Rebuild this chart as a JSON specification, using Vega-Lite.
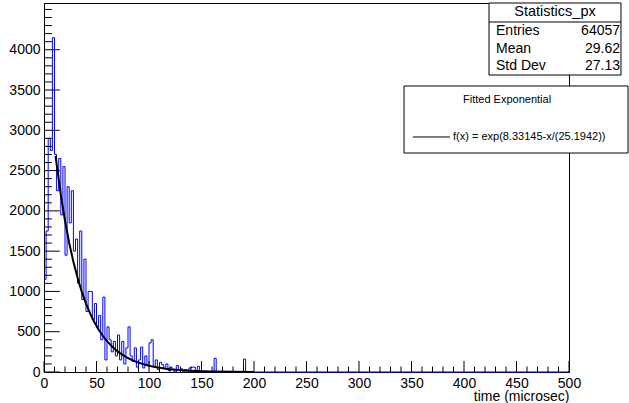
{
  "$schema": "https://vega.github.io/schema/vega-lite/v6.json",
  "width": 525,
  "height": 369,
  "autosize": {"type": "none"},
  "padding": {"left": 44, "top": 3, "right": 60, "bottom": 31},
  "background": "white",
  "config": {
    "view": {"stroke": "black", "strokeWidth": 1},
    "font": "Liberation Sans",
    "text": {"font": "Liberation Sans", "color": "black"},
    "axis": {
      "labelOverlap": false, "labelFlush": false, "labelBound": false,
      "labelFontSize": 14, "labelFont": "Liberation Sans", "labelColor": "black",
      "ticks": false, "domainColor": "black", "grid": false, "zindex": 1,
      "titleFontSize": 14, "titleFont": "Liberation Sans", "titleFontWeight": "normal", "titleColor": "black"
    }
  },
  "resolve": {"axis": {"x": "independent", "y": "independent"}},
  "datasets": {
    "hist": [
      {"t": 0, "c": 1150}, {"t": 2, "c": 1750}, {"t": 4, "c": 2900}, {"t": 6, "c": 2750}, {"t": 8, "c": 4150},
      {"t": 10, "c": 2700}, {"t": 12, "c": 2250}, {"t": 14, "c": 2650}, {"t": 16, "c": 1950}, {"t": 18, "c": 2550},
      {"t": 20, "c": 1450}, {"t": 22, "c": 2300}, {"t": 24, "c": 1850}, {"t": 26, "c": 2250}, {"t": 28, "c": 1500},
      {"t": 30, "c": 1650}, {"t": 32, "c": 1100}, {"t": 34, "c": 1750}, {"t": 36, "c": 900}, {"t": 38, "c": 1400},
      {"t": 40, "c": 750}, {"t": 42, "c": 1000}, {"t": 44, "c": 1000}, {"t": 46, "c": 650}, {"t": 48, "c": 850},
      {"t": 50, "c": 550}, {"t": 52, "c": 700}, {"t": 54, "c": 400}, {"t": 56, "c": 930}, {"t": 58, "c": 150},
      {"t": 60, "c": 560}, {"t": 62, "c": 400}, {"t": 64, "c": 250}, {"t": 66, "c": 380}, {"t": 68, "c": 200},
      {"t": 70, "c": 460}, {"t": 72, "c": 150}, {"t": 74, "c": 380}, {"t": 76, "c": 100}, {"t": 78, "c": 300},
      {"t": 80, "c": 560}, {"t": 82, "c": 200}, {"t": 84, "c": 130}, {"t": 86, "c": 300}, {"t": 88, "c": 60},
      {"t": 90, "c": 150}, {"t": 92, "c": 310}, {"t": 94, "c": 50}, {"t": 96, "c": 200}, {"t": 98, "c": 80},
      {"t": 100, "c": 360}, {"t": 102, "c": 400}, {"t": 104, "c": 60}, {"t": 106, "c": 150}, {"t": 108, "c": 30},
      {"t": 110, "c": 120}, {"t": 112, "c": 90}, {"t": 114, "c": 40}, {"t": 116, "c": 100}, {"t": 118, "c": 20},
      {"t": 120, "c": 60}, {"t": 122, "c": 30}, {"t": 124, "c": 0}, {"t": 126, "c": 80}, {"t": 128, "c": 20},
      {"t": 130, "c": 40}, {"t": 132, "c": 0}, {"t": 134, "c": 30}, {"t": 136, "c": 0}, {"t": 138, "c": 50},
      {"t": 140, "c": 60}, {"t": 142, "c": 60}, {"t": 144, "c": 20}, {"t": 146, "c": 70}, {"t": 148, "c": 0},
      {"t": 150, "c": 0}, {"t": 152, "c": 0}, {"t": 154, "c": 0}, {"t": 156, "c": 0}, {"t": 158, "c": 0},
      {"t": 160, "c": 0}, {"t": 162, "c": 170}, {"t": 164, "c": 0}, {"t": 166, "c": 0}, {"t": 168, "c": 0},
      {"t": 170, "c": 0}, {"t": 172, "c": 0}, {"t": 174, "c": 0}, {"t": 176, "c": 0}, {"t": 178, "c": 0},
      {"t": 180, "c": 0}, {"t": 182, "c": 0}, {"t": 184, "c": 0}, {"t": 186, "c": 0}, {"t": 188, "c": 0},
      {"t": 190, "c": 160}, {"t": 192, "c": 0}, {"t": 194, "c": 0}, {"t": 196, "c": 0}, {"t": 198, "c": 0},
      {"t": 500, "c": 0}
    ],
    "fit": [
      {"t": 11, "f": 2683}, {"t": 12, "f": 2579}, {"t": 16, "f": 2200}, {"t": 20, "f": 1877}, {"t": 24, "f": 1602},
      {"t": 28, "f": 1367}, {"t": 32, "f": 1166}, {"t": 36, "f": 995}, {"t": 40, "f": 849}, {"t": 44, "f": 724},
      {"t": 48, "f": 618}, {"t": 52, "f": 527}, {"t": 56, "f": 450}, {"t": 60, "f": 384}, {"t": 64, "f": 327},
      {"t": 68, "f": 279}, {"t": 72, "f": 238}, {"t": 76, "f": 203}, {"t": 80, "f": 173.5}, {"t": 84, "f": 148},
      {"t": 88, "f": 126}, {"t": 92, "f": 108}, {"t": 96, "f": 92}, {"t": 100, "f": 78.5}, {"t": 104, "f": 67},
      {"t": 108, "f": 57}, {"t": 112, "f": 49}, {"t": 116, "f": 41.6}, {"t": 120, "f": 35.5}, {"t": 128, "f": 25.8},
      {"t": 136, "f": 18.8}, {"t": 144, "f": 13.7}, {"t": 152, "f": 10}, {"t": 160, "f": 7.3}, {"t": 180, "f": 3.3},
      {"t": 200, "f": 1.5}
    ],
    "xticks": [
      {"v": 0, "major": true}, {"v": 10, "major": false}, {"v": 20, "major": false}, {"v": 30, "major": false}, {"v": 40, "major": false},
      {"v": 50, "major": true}, {"v": 60, "major": false}, {"v": 70, "major": false}, {"v": 80, "major": false}, {"v": 90, "major": false},
      {"v": 100, "major": true}, {"v": 110, "major": false}, {"v": 120, "major": false}, {"v": 130, "major": false}, {"v": 140, "major": false},
      {"v": 150, "major": true}, {"v": 160, "major": false}, {"v": 170, "major": false}, {"v": 180, "major": false}, {"v": 190, "major": false},
      {"v": 200, "major": true}, {"v": 210, "major": false}, {"v": 220, "major": false}, {"v": 230, "major": false}, {"v": 240, "major": false},
      {"v": 250, "major": true}, {"v": 260, "major": false}, {"v": 270, "major": false}, {"v": 280, "major": false}, {"v": 290, "major": false},
      {"v": 300, "major": true}, {"v": 310, "major": false}, {"v": 320, "major": false}, {"v": 330, "major": false}, {"v": 340, "major": false},
      {"v": 350, "major": true}, {"v": 360, "major": false}, {"v": 370, "major": false}, {"v": 380, "major": false}, {"v": 390, "major": false},
      {"v": 400, "major": true}, {"v": 410, "major": false}, {"v": 420, "major": false}, {"v": 430, "major": false}, {"v": 440, "major": false},
      {"v": 450, "major": true}, {"v": 460, "major": false}, {"v": 470, "major": false}, {"v": 480, "major": false}, {"v": 490, "major": false},
      {"v": 500, "major": true}
    ],
    "yticks": [
      {"v": 0, "major": true}, {"v": 100, "major": false}, {"v": 200, "major": false}, {"v": 300, "major": false}, {"v": 400, "major": false},
      {"v": 500, "major": true}, {"v": 600, "major": false}, {"v": 700, "major": false}, {"v": 800, "major": false}, {"v": 900, "major": false},
      {"v": 1000, "major": true}, {"v": 1100, "major": false}, {"v": 1200, "major": false}, {"v": 1300, "major": false}, {"v": 1400, "major": false},
      {"v": 1500, "major": true}, {"v": 1600, "major": false}, {"v": 1700, "major": false}, {"v": 1800, "major": false}, {"v": 1900, "major": false},
      {"v": 2000, "major": true}, {"v": 2100, "major": false}, {"v": 2200, "major": false}, {"v": 2300, "major": false}, {"v": 2400, "major": false},
      {"v": 2500, "major": true}, {"v": 2600, "major": false}, {"v": 2700, "major": false}, {"v": 2800, "major": false}, {"v": 2900, "major": false},
      {"v": 3000, "major": true}, {"v": 3100, "major": false}, {"v": 3200, "major": false}, {"v": 3300, "major": false}, {"v": 3400, "major": false},
      {"v": 3500, "major": true}, {"v": 3600, "major": false}, {"v": 3700, "major": false}, {"v": 3800, "major": false}, {"v": 3900, "major": false},
      {"v": 4000, "major": true}, {"v": 4100, "major": false}, {"v": 4200, "major": false}, {"v": 4300, "major": false}, {"v": 4400, "major": false},
      {"v": 4500, "major": false}
    ],
    "stats": [
      {"name": "Entries", "value": "64057"},
      {"name": "Mean", "value": "29.62"},
      {"name": "Std Dev", "value": "27.13"}
    ]
  },
  "layer": [
    {
      "data": {"name": "hist"},
      "mark": {"type": "line", "interpolate": "step-after", "color": "#0000ff", "strokeWidth": 1},
      "encoding": {
        "x": {
          "field": "t", "type": "quantitative",
          "scale": {"domain": [0, 500], "nice": false, "zero": false},
          "axis": {
            "orient": "bottom",
            "title": "time (microsec)",
            "values": [0,50,100,150,200,250,300,350,400,450,500],
            "format": "d",
            "labelPadding": 4,
            "titleAnchor": "end", "titlePadding": -1
          }
        },
        "y": {
          "field": "c", "type": "quantitative",
          "scale": {"domain": [0, 4580], "nice": false},
          "axis": {
            "orient": "left",
            "title": null,
            "values": [0,500,1000,1500,2000,2500,3000,3500,4000],
            "format": "d",
            "labelPadding": 4
          }
        }
      }
    },
    {
      "data": {"name": "fit"},
      "mark": {"type": "line", "color": "black", "strokeWidth": 2},
      "encoding": {
        "x": {"field": "t", "type": "quantitative", "axis": null},
        "y": {"field": "f", "type": "quantitative", "axis": null}
      }
    },
    {
      "data": {"name": "xticks"},
      "transform": [{"filter": "datum.major"}],
      "mark": {"type": "rule", "color": "black", "strokeWidth": 1},
      "encoding": {
        "x": {"field": "v", "type": "quantitative", "axis": null},
        "y": {"datum": 0, "type": "quantitative", "axis": null},
        "y2": {"datum": 136}
      }
    },
    {
      "data": {"name": "xticks"},
      "transform": [{"filter": "!datum.major"}],
      "mark": {"type": "rule", "color": "black", "strokeWidth": 1},
      "encoding": {
        "x": {"field": "v", "type": "quantitative", "axis": null},
        "y": {"datum": 0, "type": "quantitative", "axis": null},
        "y2": {"datum": 68}
      }
    },
    {
      "data": {"name": "yticks"},
      "transform": [{"filter": "datum.major"}],
      "mark": {"type": "rule", "color": "black", "strokeWidth": 1},
      "encoding": {
        "y": {"field": "v", "type": "quantitative", "axis": null},
        "x": {"datum": 0, "type": "quantitative", "axis": null},
        "x2": {"datum": 15}
      }
    },
    {
      "data": {"name": "yticks"},
      "transform": [{"filter": "!datum.major"}],
      "mark": {"type": "rule", "color": "black", "strokeWidth": 1},
      "encoding": {
        "y": {"field": "v", "type": "quantitative", "axis": null},
        "x": {"datum": 0, "type": "quantitative", "axis": null},
        "x2": {"datum": 7.5}
      }
    },
    {
      "data": {"values": [{}]},
      "mark": {"type": "rect", "fill": "white", "stroke": "black", "strokeWidth": 1},
      "encoding": {
        "x": {"datum": 423.8, "type": "quantitative", "axis": null},
        "x2": {"datum": 549.5},
        "y": {"datum": 4580, "type": "quantitative", "axis": null},
        "y2": {"datum": 3686}
      }
    },
    {
      "data": {"values": [{}]},
      "mark": {"type": "rule", "color": "black", "strokeWidth": 1},
      "encoding": {
        "x": {"datum": 423.8, "type": "quantitative", "axis": null},
        "x2": {"datum": 549.5},
        "y": {"datum": 4344, "type": "quantitative", "axis": null}
      }
    },
    {
      "data": {"values": [{}]},
      "mark": {"type": "text", "fontSize": 14.5, "align": "center", "baseline": "middle"},
      "encoding": {
        "x": {"datum": 486.7, "type": "quantitative", "axis": null},
        "y": {"datum": 4466, "type": "quantitative", "axis": null},
        "text": {"value": "Statistics_px"}
      }
    },
    {
      "data": {"name": "stats"},
      "transform": [{"filter": "datum.name === 'Entries'"}],
      "encoding": {"y": {"datum": 4232, "type": "quantitative", "axis": null}},
      "layer": [
        {"mark": {"type": "text", "fontSize": 14, "align": "left", "baseline": "middle"},
         "encoding": {"x": {"datum": 430.5, "type": "quantitative", "axis": null}, "text": {"field": "name"}}},
        {"mark": {"type": "text", "fontSize": 14, "align": "right", "baseline": "middle"},
         "encoding": {"x": {"datum": 548.6, "type": "quantitative", "axis": null}, "text": {"field": "value"}}}
      ]
    },
    {
      "data": {"name": "stats"},
      "transform": [{"filter": "datum.name === 'Mean'"}],
      "encoding": {"y": {"datum": 4005, "type": "quantitative", "axis": null}},
      "layer": [
        {"mark": {"type": "text", "fontSize": 14, "align": "left", "baseline": "middle"},
         "encoding": {"x": {"datum": 430.5, "type": "quantitative", "axis": null}, "text": {"field": "name"}}},
        {"mark": {"type": "text", "fontSize": 14, "align": "right", "baseline": "middle"},
         "encoding": {"x": {"datum": 548.6, "type": "quantitative", "axis": null}, "text": {"field": "value"}}}
      ]
    },
    {
      "data": {"name": "stats"},
      "transform": [{"filter": "datum.name === 'Std Dev'"}],
      "encoding": {"y": {"datum": 3798, "type": "quantitative", "axis": null}},
      "layer": [
        {"mark": {"type": "text", "fontSize": 14, "align": "left", "baseline": "middle"},
         "encoding": {"x": {"datum": 430.5, "type": "quantitative", "axis": null}, "text": {"field": "name"}}},
        {"mark": {"type": "text", "fontSize": 14, "align": "right", "baseline": "middle"},
         "encoding": {"x": {"datum": 548.6, "type": "quantitative", "axis": null}, "text": {"field": "value"}}}
      ]
    },
    {
      "data": {"values": [{}]},
      "mark": {"type": "rect", "fill": "white", "stroke": "black", "strokeWidth": 1},
      "encoding": {
        "x": {"datum": 342.9, "type": "quantitative", "axis": null},
        "x2": {"datum": 556.2},
        "y": {"datum": 3550, "type": "quantitative", "axis": null},
        "y2": {"datum": 2718}
      }
    },
    {
      "data": {"values": [{}]},
      "mark": {"type": "text", "fontSize": 11, "align": "center", "baseline": "middle"},
      "encoding": {
        "x": {"datum": 441, "type": "quantitative", "axis": null},
        "y": {"datum": 3376, "type": "quantitative", "axis": null},
        "text": {"value": "Fitted Exponential"}
      }
    },
    {
      "data": {"values": [{}]},
      "mark": {"type": "rule", "color": "black", "strokeWidth": 1},
      "encoding": {
        "x": {"datum": 351.4, "type": "quantitative", "axis": null},
        "x2": {"datum": 386.7},
        "y": {"datum": 2917, "type": "quantitative", "axis": null}
      }
    },
    {
      "data": {"values": [{}]},
      "mark": {"type": "text", "fontSize": 11, "align": "left", "baseline": "middle"},
      "encoding": {
        "x": {"datum": 389.5, "type": "quantitative", "axis": null},
        "y": {"datum": 2917, "type": "quantitative", "axis": null},
        "text": {"value": "f(x) = exp(8.33145-x/(25.1942))"}
      }
    }
  ]
}
